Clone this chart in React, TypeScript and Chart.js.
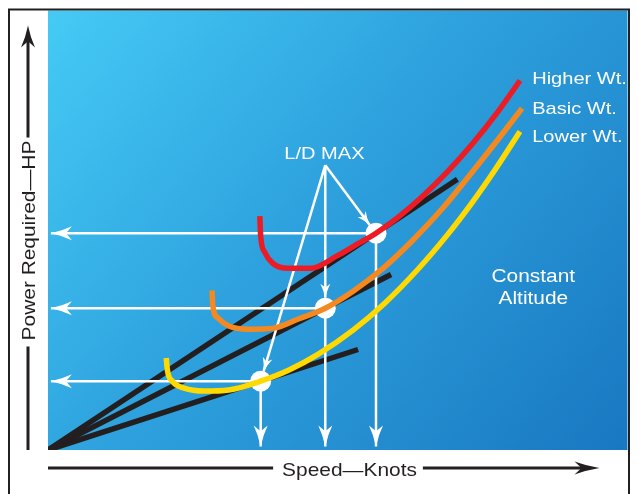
import React, { useEffect, useRef } from "react";
import { Chart, registerables } from "chart.js";

Chart.register(...registerables);

const FONT = '"Liberation Sans", Arial, Helvetica, sans-serif';

// Scale ranges (conceptual units: knots / horsepower)
const speedMax = 200;
const powerMax = 150;

// Power-required curves
const higherWtSpeed = [73.1, 73.4, 74.8, 77.5, 83.0, 90.6, 100.2, 107.0, 113.2, 120.8, 129.3, 137.9, 146.5, 155.1, 162.9];
const higherWtPower = [79.8, 73.0, 67.5, 63.8, 62.0, 62.0, 66.5, 70.4, 74.0, 79.4, 86.6, 95.0, 104.5, 115.2, 126.1];

const basicWtSpeed = [56.6, 56.9, 58.7, 62.4, 69.3, 77.9, 86.4, 95.7, 105.3, 115.6, 125.9, 136.2, 145.8, 155.1, 163.6];
const basicWtPower = [54.5, 49.1, 45.0, 42.3, 41.2, 41.6, 44.7, 48.4, 54.2, 62.0, 71.6, 82.5, 94.1, 105.7, 116.6];

const lowerWtSpeed = [40.8, 41.2, 42.9, 47.0, 53.9, 62.4, 73.4, 83.0, 93.3, 105.3, 116.3, 127.6, 137.9, 146.5, 154.0, 162.9];
const lowerWtPower = [31.4, 27.3, 23.5, 21.1, 20.1, 20.5, 23.5, 27.2, 32.7, 40.9, 50.2, 61.6, 73.5, 84.6, 95.2, 108.7];

const curveColors = ["#ed1c24", "#f5891f", "#ffd900"];

// L/D max points (higher, basic, lower)
const ldMaxSpeed = [113.2, 95.7, 73.4];
const ldMaxPower = [74.0, 48.4, 23.5];

// Tangent lines from origin
const tangentEndSpeed = [141.3, 118.4, 107.0];
const tangentEndPower = [92.4, 59.9, 34.3];

// Pointer from "L/D MAX" label
const pointerApexSpeed = 95.7;
const pointerApexPower = 97.2;
const pointerTipSpeed = [111.1, 95.7, 74.4];
const pointerTipPower = [76.7, 52.0, 26.8];

// Where the white reading arrows end
const axisArrowSpeed = 1.0;
const axisArrowPower = 1.2;

// Text
const weightLabels = ["Higher Wt.", "Basic Wt.", "Lower Wt."];
const weightLabelSpeed = 167.1;
const weightLabelPower = [125.0, 114.8, 105.1];
const noteLines = ["Constant", "Altitude"];
const noteSpeed = 167.5;
const notePower = [57.2, 49.8];
const ldLabel = "L/D MAX";
const ldLabelSpeed = 95.4;
const ldLabelPower = 99.4;
const xTitle = "Speed\u2014Knots";
const yTitle = "Power Required\u2014HP";

function pts(xs: number[], ys: number[]) {
  return xs.map((x, i) => ({ x, y: ys[i] }));
}

function drawArrowHead(ctx: CanvasRenderingContext2D, fx: number, fy: number, tx: number, ty: number, len: number, half: number, color: string) {
  const ang = Math.atan2(ty - fy, tx - fx);
  ctx.save();
  ctx.translate(tx, ty);
  ctx.rotate(ang);
  ctx.beginPath();
  ctx.moveTo(0, 0);
  ctx.quadraticCurveTo(-len * 0.55, half * 0.35, -len, half);
  ctx.lineTo(-len * 0.72, 0);
  ctx.lineTo(-len, -half);
  ctx.quadraticCurveTo(-len * 0.55, -half * 0.35, 0, 0);
  ctx.closePath();
  ctx.fillStyle = color;
  ctx.fill();
  ctx.restore();
}

function stretchedText(ctx: CanvasRenderingContext2D, text: string, x: number, y: number, align: CanvasTextAlign, stretch: number) {
  ctx.save();
  ctx.translate(x, y);
  ctx.scale(stretch, 1);
  ctx.textAlign = align;
  ctx.fillText(text, 0, 0);
  ctx.restore();
}

const backgroundPlugin = {
  id: "bgGradient",
  beforeDatasetsDraw(chart: any) {
    const { ctx, chartArea: a } = chart;
    const w = a.right - a.left;
    const h = a.bottom - a.top;
    const g = ctx.createLinearGradient(a.left, a.top, a.left + w * 1.06, a.top + h * 1.16);
    g.addColorStop(0, "#45caf5");
    g.addColorStop(0.4, "#2ea2de");
    g.addColorStop(1, "#1570bc");
    ctx.save();
    ctx.fillStyle = g;
    ctx.fillRect(a.left, a.top, w, h);
    ctx.restore();
  },
};

const arrowPlugin = {
  id: "arrowHeads",
  afterDatasetsDraw(chart: any) {
    const ctx = chart.ctx;
    chart.data.datasets.forEach((ds: any, i: number) => {
      if (!ds.arrow) return;
      const meta = chart.getDatasetMeta(i);
      const n = meta.data.length;
      const p0 = meta.data[n - 2];
      const p1 = meta.data[n - 1];
      drawArrowHead(ctx, p0.x, p0.y, p1.x, p1.y, ds.arrow.len, ds.arrow.half, ds.borderColor);
    });
  },
};

const textPlugin = {
  id: "annotations",
  afterDraw(chart: any) {
    const { ctx, chartArea: a, scales } = chart;
    const xs = scales.x;
    const ys = scales.y;
    ctx.save();
    // white labels inside plot
    ctx.fillStyle = "#ffffff";
    ctx.textBaseline = "alphabetic";
    ctx.font = `17px ${FONT}`;
    weightLabels.forEach((t, i) => {
      stretchedText(ctx, t, xs.getPixelForValue(weightLabelSpeed), ys.getPixelForValue(weightLabelPower[i]), "left", 1.18);
    });
    stretchedText(ctx, ldLabel, xs.getPixelForValue(ldLabelSpeed), ys.getPixelForValue(ldLabelPower), "center", 1.18);
    ctx.font = `18px ${FONT}`;
    noteLines.forEach((t, i) => {
      stretchedText(ctx, t, xs.getPixelForValue(noteSpeed), ys.getPixelForValue(notePower[i]), "center", 1.16);
    });

    // frame
    const ink = "#231f20";
    ctx.strokeStyle = ink;
    ctx.fillStyle = ink;
    ctx.lineWidth = 2;
    ctx.beginPath();
    ctx.moveTo(a.left - 39, chart.height + 2);
    ctx.lineTo(a.left - 39, a.top - 1);
    ctx.lineTo(a.right + 1.5, a.top - 1);
    ctx.lineTo(a.right + 1.5, chart.height + 2);
    ctx.stroke();

    // axis titles
    ctx.font = `19px ${FONT}`;
    const stretch = 1.1;
    // x axis
    const xAxisY = a.bottom + 18;
    const xTitleCx = a.left + 301.5;
    const xw = ctx.measureText(xTitle).width * stretch;
    ctx.save();
    ctx.translate(xTitleCx, xAxisY + 7.5);
    ctx.scale(stretch, 1);
    ctx.textAlign = "center";
    ctx.textBaseline = "alphabetic";
    ctx.fillText(xTitle, 0, 0);
    ctx.restore();
    const xTip = a.right - 28;
    ctx.lineWidth = 3;
    ctx.beginPath();
    ctx.moveTo(a.left, xAxisY);
    ctx.lineTo(xTitleCx - xw / 2 - 9, xAxisY);
    ctx.moveTo(xTitleCx + xw / 2 + 6, xAxisY);
    ctx.lineTo(xTip - 10, xAxisY);
    ctx.stroke();
    drawArrowHead(ctx, a.left, xAxisY, xTip, xAxisY, 25, 6.5, ink);

    // y axis
    const yAxisX = a.left - 20;
    const yTitleCy = a.top + 230;
    const yw = ctx.measureText(yTitle).width * stretch;
    ctx.save();
    ctx.translate(yAxisX + 6.5, yTitleCy);
    ctx.rotate(-Math.PI / 2);
    ctx.scale(stretch, 1);
    ctx.textAlign = "center";
    ctx.textBaseline = "alphabetic";
    ctx.fillText(yTitle, 0, 0);
    ctx.restore();
    const yTip = a.top + 15;
    ctx.beginPath();
    ctx.moveTo(yAxisX, yTip + 10);
    ctx.lineTo(yAxisX, yTitleCy - yw / 2 - 3);
    ctx.moveTo(yAxisX, yTitleCy + yw / 2 + 6);
    ctx.lineTo(yAxisX, a.bottom);
    ctx.stroke();
    drawArrowHead(ctx, yAxisX, a.bottom, yAxisX, yTip, 22, 7, ink);
    ctx.restore();
  },
};

export default function App() {
  const ref = useRef<HTMLCanvasElement | null>(null);

  useEffect(() => {
    document.body.style.margin = "0";
    const canvas = ref.current;
    if (!canvas) return;

    const datasets: any[] = [];

    // black tangent lines
    tangentEndSpeed.forEach((s, i) => {
      datasets.push({
        data: [{ x: 0, y: 0 }, { x: s, y: tangentEndPower[i] }],
        borderColor: "#231f20",
        borderWidth: 5.5,
        pointRadius: 0,
        showLine: true,
        borderCapStyle: "butt",
        order: 6,
      });
    });

    // white reading arrows
    ldMaxSpeed.forEach((s, i) => {
      datasets.push({
        data: [{ x: s, y: ldMaxPower[i] }, { x: axisArrowSpeed, y: ldMaxPower[i] }],
        borderColor: "#ffffff",
        borderWidth: 2.5,
        pointRadius: 0,
        showLine: true,
        arrow: { len: 21, half: 7 },
        order: 5,
      });
      datasets.push({
        data: [{ x: s, y: ldMaxPower[i] }, { x: s, y: axisArrowPower }],
        borderColor: "#ffffff",
        borderWidth: 2.5,
        pointRadius: 0,
        showLine: true,
        arrow: { len: 21, half: 7 },
        order: 5,
      });
      datasets.push({
        data: [{ x: pointerApexSpeed, y: pointerApexPower }, { x: pointerTipSpeed[i], y: pointerTipPower[i] }],
        borderColor: "#ffffff",
        borderWidth: 2.5,
        pointRadius: 0,
        showLine: true,
        arrow: { len: 14, half: 5 },
        order: 5,
      });
    });

    // L/D max circles
    datasets.push({
      data: pts(ldMaxSpeed, ldMaxPower),
      backgroundColor: "#ffffff",
      borderWidth: 0,
      pointRadius: 10.5,
      showLine: false,
      order: 4,
    });

    // curves
    [pts(higherWtSpeed, higherWtPower), pts(basicWtSpeed, basicWtPower), pts(lowerWtSpeed, lowerWtPower)].forEach((d, i) => {
      datasets.push({
        data: d,
        borderColor: curveColors[i],
        borderWidth: 5.5,
        pointRadius: 0,
        showLine: true,
        cubicInterpolationMode: "monotone",
        borderCapStyle: "butt",
        order: 3,
      });
    });

    const chart = new Chart(canvas, {
      type: "scatter",
      data: { datasets },
      options: {
        responsive: false,
        animation: false,
        events: [],
        layout: { padding: { left: 48, top: 10, right: 7, bottom: 44 } },
        plugins: { legend: { display: false }, tooltip: { enabled: false } },
        scales: {
          x: { type: "linear", min: 0, max: speedMax, display: false },
          y: { type: "linear", min: 0, max: powerMax, display: false },
        },
      },
      plugins: [backgroundPlugin, arrowPlugin, textPlugin],
    } as any);

    return () => chart.destroy();
  }, []);

  return <canvas ref={ref} width={638} height={494} style={{ display: "block", width: 638, height: 494 }} />;
}
